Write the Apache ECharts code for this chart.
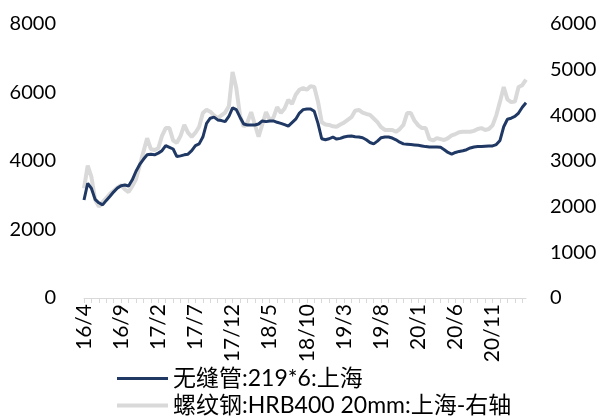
<!DOCTYPE html>
<html>
<head>
<meta charset="utf-8">
<script src="https://cdn.jsdelivr.net/npm/echarts@6/dist/echarts.min.js"></script>
<style>
  html, body { margin: 0; padding: 0; background: #fff; }
  #main { width: 601px; height: 416px; }
</style>
</head>
<body>
<div id="main"></div>
<script>
// 半月一个点, 2016/4 起
const startYear = 2016
const startMonth = 4
const halfMonthCount = 120

const seriesNames = ['无缝管:219*6:上海', '螺纹钢:HRB400 20mm:上海-右轴']

// 无缝管 左轴
const seamlessPipe = [
  2860, 3350, 3200, 2880, 2780, 2720, 2850, 2970, 3100, 3210,
  3280, 3300, 3270, 3450, 3700, 3900, 4050, 4180, 4200, 4180,
  4230, 4300, 4450, 4400, 4350, 4130, 4150, 4180, 4200, 4300,
  4450, 4500, 4700, 5100, 5250, 5280, 5200, 5180, 5150, 5300,
  5550, 5500, 5280, 5080, 5050, 5050, 5050, 5080, 5170, 5150,
  5170, 5170, 5130, 5100, 5060, 5020, 5120, 5220, 5400, 5500,
  5520, 5520, 5450, 5100, 4650, 4620, 4650, 4700, 4640, 4660,
  4700, 4720, 4730, 4710, 4700, 4680, 4620, 4540, 4500, 4580,
  4680, 4700, 4700, 4670, 4620, 4550, 4500, 4490, 4480, 4470,
  4460, 4440, 4420, 4410, 4410, 4410, 4400, 4330, 4250, 4200,
  4250, 4280, 4300, 4330, 4380, 4410, 4420, 4420, 4430, 4440,
  4440, 4480, 4600, 5000, 5220, 5250, 5300, 5400, 5570, 5700
]

// 螺纹钢 右轴
const rebar = [
  2400, 2900, 2650, 2150, 2000, 2100, 2190, 2280, 2350, 2420,
  2470, 2380, 2320, 2450, 2600, 2900, 3200, 3500, 3260, 3240,
  3280, 3550, 3720, 3720, 3450, 3400, 3550, 3790, 3620, 3530,
  3620, 3750, 4050, 4120, 4080, 4000, 3940, 4000, 4060, 4200,
  4950, 4600, 4000, 3750, 3850, 4070, 3800, 3530, 3800, 4070,
  3900, 3950, 4180, 4050, 4150, 4340, 4250, 4450, 4560, 4600,
  4560, 4640, 4620, 4300, 3850, 3800, 3790, 3760, 3750, 3800,
  3840, 3900, 3960, 4100, 4120, 4060, 4030, 4010, 3930, 3850,
  3740, 3680, 3680, 3680, 3640, 3700, 3790, 4050, 4050, 3880,
  3780, 3720, 3720, 3480, 3450, 3500, 3480, 3460, 3500, 3560,
  3590, 3630, 3640, 3640, 3640, 3660, 3700, 3720, 3680, 3700,
  3780, 4000, 4300, 4620, 4350, 4290, 4300, 4620, 4660, 4780
]

const leftTicks = { min: 0, max: 8000, interval: 2000 }
const rightTicks = { min: 0, max: 6000, interval: 1000 }

const darkBlue = '#1f3864'
const lightGray = '#d9d9d9'

// 日期类目
const dates = []
for (let i = 0; i < halfMonthCount; i++) {
  let m = startMonth - 1 + Math.floor(i / 2)
  let y = startYear + Math.floor(m / 12)
  let mm = m % 12 + 1
  dates.push(y + '-' + (mm < 10 ? '0' + mm : mm) + (i % 2 === 0 ? '-01' : '-16'))
}

const font = 'Lato, "Noto Sans CJK SC", sans-serif'
const chart = echarts.init(document.getElementById('main'))

function legendItem(name, top, h) {
  return {
    orient: 'vertical',
    left: 112,
    top: top,
    itemWidth: 51,
    itemHeight: 20,
    data: [{ name: name, icon: 'path://M0,0 L51,0 L51,' + h + ' L0,' + h + ' Z' }],
    textStyle: { fontFamily: font, fontSize: 23, color: '#000' }
  }
}

const option = {
  animation: false,
  grid: {
    left: 84,
    right: 75,
    top: 24,
    bottom: 118
  },
  legend: [
    legendItem(seriesNames[0], 362, 3),
    legendItem(seriesNames[1], 389, 4)
  ],
  xAxis: {
    type: 'category',
    boundaryGap: false,
    data: dates,
    axisLine: { lineStyle: { color: lightGray, width: 1 } },
    axisTick: {
      show: true,
      length: 5,
      lineStyle: { color: lightGray },
      interval: function (index) { return index % 2 === 0 }
    },
    axisLabel: {
      rotate: 90,
      margin: 6,
      fontFamily: font,
      fontSize: 21,
      color: '#000',
      interval: function (index) { return index % 10 === 0 },
      formatter: function (val) {
        let p = val.split('-')
        return p[0].slice(2) + '/' + parseInt(p[1], 10)
      }
    },
    splitLine: { show: false }
  },
  yAxis: [
    {
      type: 'value',
      min: leftTicks.min,
      max: leftTicks.max,
      interval: leftTicks.interval,
      axisLine: { show: false },
      axisTick: { show: false },
      splitLine: { show: false },
      axisLabel: { margin: 28, fontFamily: font, fontSize: 20, color: '#000', formatter: v => String(v) }
    },
    {
      type: 'value',
      min: rightTicks.min,
      max: rightTicks.max,
      interval: rightTicks.interval,
      axisLine: { show: false },
      axisTick: { show: false },
      splitLine: { show: false },
      axisLabel: { margin: 24, fontFamily: font, fontSize: 20, color: '#000', formatter: v => String(v) }
    }
  ],
  series: [
    {
      name: seriesNames[1],
      type: 'line',
      yAxisIndex: 1,
      data: rebar,
      symbol: 'none',
      lineStyle: { color: lightGray, width: 4 },
      itemStyle: { color: lightGray },
      z: 2
    },
    {
      name: seriesNames[0],
      type: 'line',
      yAxisIndex: 0,
      data: seamlessPipe,
      symbol: 'none',
      lineStyle: { color: darkBlue, width: 3 },
      itemStyle: { color: darkBlue },
      z: 3
    }
  ]
}
chart.setOption(option)
</script>
</body>
</html>
